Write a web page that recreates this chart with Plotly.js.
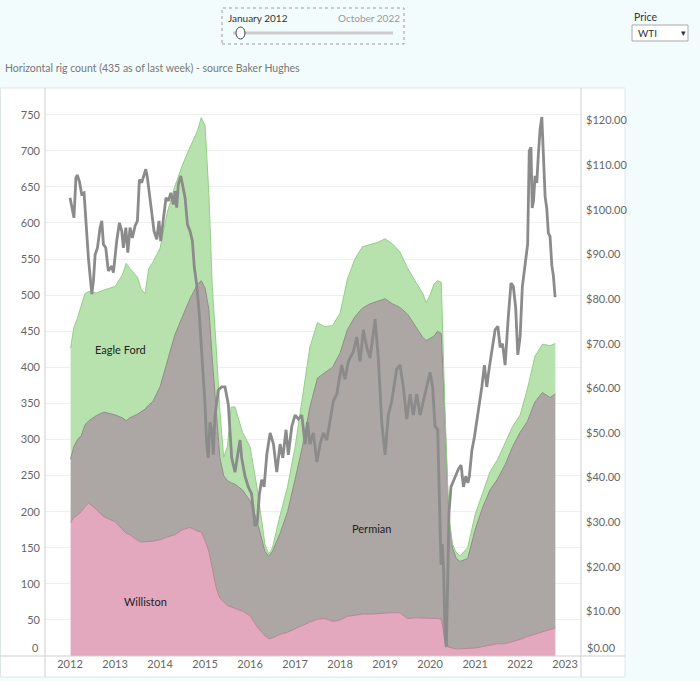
<!DOCTYPE html>
<html>
<head>
<meta charset="utf-8">
<script src="https://cdn.plot.ly/plotly-3.0.1.min.js"></script>
<style>
  html, body { margin: 0; padding: 0; background: #f3fcfc; }
  #chart { width: 700px; height: 681px; }
</style>
</head>
<body>
<div id="chart"></div>
<script>
// ---- Rig count data (horizontal rigs) ----
const rigDates = [
  '2012-01-06','2012-02-01','2012-03-01','2012-04-01','2012-05-01','2012-06-01','2012-08-01','2012-10-01',
  '2013-01-01','2013-03-01','2013-04-01','2013-05-01','2013-07-01','2013-08-01','2013-09-01','2013-10-01','2013-11-01',
  '2014-01-01','2014-03-01','2014-05-01','2014-07-01','2014-09-01','2014-11-01','2014-12-01',
  '2015-01-01','2015-02-01','2015-03-01','2015-04-01','2015-05-01','2015-06-01','2015-07-01','2015-08-01','2015-09-01','2015-11-01',
  '2016-01-01','2016-03-01','2016-05-01','2016-06-01','2016-07-01','2016-09-01','2016-11-01',
  '2017-01-01','2017-03-01','2017-05-01','2017-07-01','2017-09-01','2017-11-01',
  '2018-01-01','2018-03-01','2018-05-01','2018-07-01','2018-09-01','2018-11-01',
  '2019-01-01','2019-03-01','2019-05-01','2019-07-01','2019-09-01','2019-11-01','2019-12-01',
  '2020-01-01','2020-02-01','2020-03-01','2020-04-01','2020-05-01','2020-06-01','2020-07-01','2020-08-01','2020-09-01','2020-11-01',
  '2021-01-01','2021-03-01','2021-05-01','2021-07-01','2021-09-01','2021-11-01',
  '2022-01-01','2022-03-01','2022-05-01','2022-07-01','2022-09-01','2022-10-14'
];
const williston = [
  185,192,195,200,207,212,203,193,
  186,175,170,168,160,158,158,159,159,
  161,165,168,175,178,173,172,
  160,145,120,95,80,75,70,68,66,62,
  56,40,28,24,25,30,33,
  38,43,47,51,52,48,
  50,55,57,58,58,59,
  59,60,60,52,53,53,53,
  53,53,52,51,24,12,11,10,10,10,
  11,13,15,17,17,20,
  23,27,30,33,37,39
];
const permian = [
  88,98,105,105,113,114,130,145,
  148,155,156,162,175,180,184,189,193,
  212,245,277,295,317,342,348,
  350,335,290,240,195,175,173,172,172,168,
  159,145,117,114,120,140,167,
  207,247,298,334,341,352,
  370,397,413,424,430,432,
  436,428,423,422,405,389,384,
  387,390,398,396,306,178,139,125,121,125,
  164,192,215,228,248,270,
  287,298,322,332,321,324
];
const eagleFord = [
  154,165,168,180,182,179,170,169,
  178,198,218,207,190,170,160,189,193,
  192,205,206,210,210,213,226,
  225,160,100,95,65,25,47,105,107,80,
  75,45,10,3,5,25,35,
  45,65,83,77,63,58,
  55,70,80,85,82,82,
  83,83,77,64,62,61,53,
  60,72,70,71,10,5,5,8,8,15,
  21,20,25,27,30,28,
  24,45,63,67,72,70
];

// ---- WTI price (USD) ----
const wtiDates = [
  '2012-01-01','2012-01-14','2012-02-02','2012-02-18','2012-02-29','2012-03-17','2012-04-05','2012-04-24','2012-05-10','2012-05-29',
  '2012-06-26','2012-07-09','2012-07-23','2012-08-11','2012-09-01','2012-09-15','2012-09-28','2012-10-17','2012-11-07','2012-12-05','2012-12-18',
  '2013-01-14','2013-02-05','2013-02-24','2013-03-09','2013-03-29','2013-04-14','2013-05-02','2013-05-21','2013-06-12','2013-07-01',
  '2013-07-17','2013-08-05','2013-08-18','2013-09-07','2013-09-20','2013-10-06','2013-10-25','2013-11-13','2013-12-05','2013-12-23',
  '2014-01-06','2014-01-27','2014-02-18','2014-03-09','2014-03-29','2014-04-19','2014-05-02','2014-05-16','2014-05-29','2014-06-18',
  '2014-07-04','2014-07-23','2014-08-11','2014-09-01','2014-09-20','2014-10-06','2014-10-25','2014-11-15','2014-12-05',
  '2015-01-01','2015-01-14','2015-01-27','2015-02-10','2015-02-24','2015-03-09','2015-03-23','2015-04-19','2015-05-16','2015-06-12',
  '2015-07-09','2015-08-05','2015-09-01','2015-09-28','2015-10-12','2015-10-25','2015-11-21','2015-12-18',
  '2016-01-14','2016-02-10','2016-02-29','2016-03-17','2016-04-05','2016-04-24','2016-05-16','2016-06-12','2016-07-09','2016-08-05',
  '2016-09-01','2016-09-23','2016-10-19','2016-11-07','2016-12-05',
  '2017-01-01','2017-01-27','2017-02-24','2017-03-23','2017-04-11','2017-05-02','2017-05-29','2017-06-26','2017-07-23','2017-08-18',
  '2017-09-15','2017-10-12','2017-11-07','2017-12-05',
  '2018-01-14','2018-02-10','2018-03-09','2018-04-19','2018-05-16','2018-06-12','2018-07-09','2018-08-05','2018-09-01','2018-09-28',
  '2018-10-12','2018-11-07','2018-12-05',
  '2019-01-01','2019-01-27','2019-02-24','2019-04-05','2019-05-02','2019-05-29','2019-06-26','2019-07-23','2019-08-18','2019-09-15',
  '2019-10-12','2019-11-21',
  '2020-01-01','2020-01-22','2020-02-10','2020-03-03','2020-03-14','2020-03-30','2020-04-09','2020-04-20','2020-05-02','2020-05-12',
  '2020-05-23','2020-06-03','2020-06-19','2020-07-23','2020-08-18','2020-09-09','2020-09-28','2020-10-17','2020-11-03','2020-11-15',
  '2020-12-05','2020-12-26',
  '2021-01-14','2021-02-02','2021-02-24','2021-03-17','2021-04-05','2021-04-24','2021-05-16','2021-06-12','2021-07-04','2021-07-23',
  '2021-08-11','2021-09-01','2021-09-28','2021-10-19','2021-11-07','2021-11-26','2021-12-13',
  '2022-01-01','2022-01-19','2022-02-10','2022-03-03','2022-03-16','2022-03-30','2022-04-09','2022-04-20','2022-05-02','2022-05-16',
  '2022-05-29','2022-06-12','2022-06-26','2022-07-09','2022-07-23','2022-08-05','2022-08-18','2022-09-01','2022-09-15','2022-09-28',
  '2022-10-12'
];
const wtiPrice = [
  102.7,100.5,98.2,107.2,107.8,106.4,103.5,103.8,96,89.3,
  81.1,84,90,91.5,96,97.5,92.3,91.5,86.3,87.4,85.9,
  93,97.1,95.2,91.5,96,90.4,96,93.7,96.4,97.5,
  106.8,106.1,107.2,109.1,107.2,103.5,99.7,95.2,93.4,97.5,
  93,98.2,102.7,102,103.8,101.2,104.2,100.5,105.7,107.6,
  105.7,102.7,96.7,95.2,93,87,83.3,76.6,68,
  56.3,47.5,44.4,52.4,50.7,45.1,54,59.6,60.3,60.3,
  56.3,44.4,41.2,46,48.4,44.4,40.3,37.9,
  36.3,29.1,30,36.3,39.5,37.9,45.1,50,47.5,41.2,
  47.5,44.4,50.7,45.1,51.5,
  54,53.1,54,47.5,52.4,47.5,50,43.5,47.5,50,
  48.4,53.1,57.1,58.7,
  65.2,62,66,68.3,71.5,66,73.1,69.2,66.8,72.4,
  75.5,66.8,52.4,
  45.1,54,57.1,64.3,65.2,60.3,53.1,58.7,54,58.7,
  54,58.7,
  63.6,60.3,51.5,50.7,37.9,20.4,25.1,19.5,4.3,2,
  16.4,32.3,37.9,40.3,41.9,42.8,37.9,40.3,38.8,40.3,
  46,49.1,
  52.4,55.6,60.3,65.2,60.3,64.3,68.3,73.1,73.9,69.2,
  70,65.2,76.4,83.6,82.8,78,67.5,
  71.5,82.8,88.3,92.3,113.2,114,100.4,102,107.6,106,
  112.4,118,120.8,110.8,102.9,100.4,94.8,94,87.6,85.2,
  80.4
];

// axis tick values (the zero labels are drawn separately, nudged up as in the original)
const rigTicks = [50,100,150,200,250,300,350,400,450,500,550,600,650,700,750];
const priceTicks = [10,20,30,40,50,60,70,80,90,100,110,120];
const priceTickText = priceTicks.map(v => '$' + v.toFixed(2));
const yearTicks = ['2012-01-01','2013-01-01','2014-01-01','2015-01-01','2016-01-01','2017-01-01',
                   '2018-01-01','2019-01-01','2020-01-01','2021-01-01','2022-01-01','2023-01-01'];

const basinNames = ['Williston', 'Permian', 'Eagle Ford'];
const basinValues = [williston, permian, eagleFord];
const basinFill = ['#e3a8bd', '#aca6a4', '#b7e1ad'];
const basinLine = ['#b98496', '#8f8987', '#94cf86'];

const labelFont = 'Lato, "Open Sans", sans-serif';

const traces = basinNames.map((name, i) => ({
  type: 'scatter',
  mode: 'lines',
  name: name,
  x: rigDates,
  y: basinValues[i],
  stackgroup: 'rigs',
  fillcolor: basinFill[i],
  line: { color: basinLine[i], width: 1 },
  hoverinfo: 'x+y+name'
}));

traces.push({
  type: 'scatter',
  mode: 'lines',
  name: 'WTI',
  x: wtiDates,
  y: wtiPrice,
  yaxis: 'y2',
  line: { color: '#8b8b8b', width: 2.8 }
});

// helpers to place chrome in paper coordinates (plot area: x 45..581, y 88..656 px)
const PL = 45, PR = 581, PT = 88, PB = 656;
const px = v => (v - PL) / (PR - PL);
const py = v => (PB - v) / (PB - PT);

const tickFont = { family: labelFont, size: 11, color: '#666' };

const layout = {
  width: 700,
  height: 681,
  margin: { l: PL, r: 700 - PR, t: PT, b: 681 - PB },
  paper_bgcolor: '#f3fcfc',
  plot_bgcolor: '#ffffff',
  showlegend: false,
  font: { family: labelFont, size: 11, color: '#666' },
  title: {
    text: 'Horizontal rig count (435 as of last week) - source Baker Hughes',
    font: { family: labelFont, size: 10.5, color: '#777' },
    x: 5 / 700, xanchor: 'left', xref: 'container',
    y: 1 - 68 / 681, yanchor: 'middle', yref: 'container'
  },
  xaxis: {
    type: 'date',
    range: ['2011-06-12', '2023-05-10'],
    tickvals: yearTicks,
    tickformat: '%Y',
    showgrid: false,
    zeroline: false,
    showline: false,
    ticks: '',
    tickfont: tickFont
  },
  yaxis: {
    range: [0, 787],
    tickvals: rigTicks,
    showgrid: true,
    gridcolor: '#efefef',
    gridwidth: 1,
    zeroline: false,
    showline: false,
    ticks: '',
    ticklabelstandoff: 4,
    tickfont: tickFont
  },
  yaxis2: {
    overlaying: 'y',
    side: 'right',
    range: [0, 127.3],
    tickmode: 'array',
    tickvals: priceTicks,
    ticktext: priceTickText,
    showgrid: false,
    zeroline: false,
    showline: false,
    ticks: '',
    ticklabelstandoff: 4,
    tickfont: tickFont
  },
  shapes: [
    // white worksheet panel
    { type: 'rect', xref: 'paper', yref: 'paper', layer: 'below',
      x0: px(0.5), x1: px(625), y0: py(677), y1: py(88),
      fillcolor: '#ffffff', line: { color: '#dde6e6', width: 1 } },
    // axis rules
    { type: 'line', xref: 'paper', yref: 'paper', x0: px(0), x1: px(625), y0: py(656), y1: py(656),
      line: { color: '#cfcfcf', width: 1 } },
    { type: 'line', xref: 'paper', yref: 'paper', x0: px(45), x1: px(45), y0: py(677), y1: py(88),
      line: { color: '#cfcfcf', width: 1 } },
    { type: 'line', xref: 'paper', yref: 'paper', x0: px(581), x1: px(581), y0: py(677), y1: py(88),
      line: { color: '#cfcfcf', width: 1 } },
    // date slider box
    { type: 'rect', xref: 'paper', yref: 'paper', x0: px(222), x1: px(404), y0: py(44), y1: py(8),
      line: { color: '#9a9a9a', width: 1, dash: 'dot' }, fillcolor: 'rgba(0,0,0,0)' },
    { type: 'line', xref: 'paper', yref: 'paper', x0: px(233), x1: px(393), y0: py(33), y1: py(33),
      line: { color: '#cccccc', width: 3 } },
    { type: 'circle', xref: 'paper', yref: 'paper', x0: px(236), x1: px(245), y0: py(39), y1: py(27),
      fillcolor: '#ffffff', line: { color: '#444', width: 1 } },
    // price dropdown
    { type: 'rect', xref: 'paper', yref: 'paper', x0: px(632), x1: px(688), y0: py(41), y1: py(25),
      fillcolor: '#ffffff', line: { color: '#a8a8a8', width: 1 } }
  ],
  annotations: [
    { x: '2013-02-10', y: 424, xref: 'x', yref: 'y', text: 'Eagle Ford', showarrow: false,
      font: { family: labelFont, size: 11, color: '#222' } },
    { x: '2018-09-09', y: 176, xref: 'x', yref: 'y', text: 'Permian', showarrow: false,
      font: { family: labelFont, size: 11, color: '#222' } },
    { x: '2013-09-01', y: 75, xref: 'x', yref: 'y', text: 'Williston', showarrow: false,
      font: { family: labelFont, size: 11, color: '#222' } },
    // zero labels, lifted above the baseline like the original
    { x: px(41), y: py(647), xref: 'paper', yref: 'paper', xanchor: 'right', yanchor: 'middle',
      text: '0', showarrow: false, font: tickFont },
    { x: px(585), y: py(647), xref: 'paper', yref: 'paper', xanchor: 'left', yanchor: 'middle',
      text: '$0.00', showarrow: false, font: tickFont },
    // filter controls
    { x: px(226), y: py(18), xref: 'paper', yref: 'paper', xanchor: 'left', yanchor: 'middle',
      text: 'January 2012', showarrow: false, font: { family: labelFont, size: 10, color: '#333' } },
    { x: px(402), y: py(18), xref: 'paper', yref: 'paper', xanchor: 'right', yanchor: 'middle',
      text: 'October 2022', showarrow: false, font: { family: labelFont, size: 10, color: '#999' } },
    { x: px(632), y: py(17), xref: 'paper', yref: 'paper', xanchor: 'left', yanchor: 'middle',
      text: 'Price', showarrow: false, font: { family: labelFont, size: 10.5, color: '#333' } },
    { x: px(636), y: py(33), xref: 'paper', yref: 'paper', xanchor: 'left', yanchor: 'middle',
      text: 'WTI', showarrow: false, font: { family: labelFont, size: 10, color: '#333' } },
    { x: px(683), y: py(33), xref: 'paper', yref: 'paper', xanchor: 'center', yanchor: 'middle',
      text: '▾', showarrow: false, font: { family: 'DejaVu Sans', size: 9, color: '#333' } }
  ]
};

Plotly.newPlot('chart', traces, layout, { displayModeBar: false, staticPlot: true });
</script>
</body>
</html>
